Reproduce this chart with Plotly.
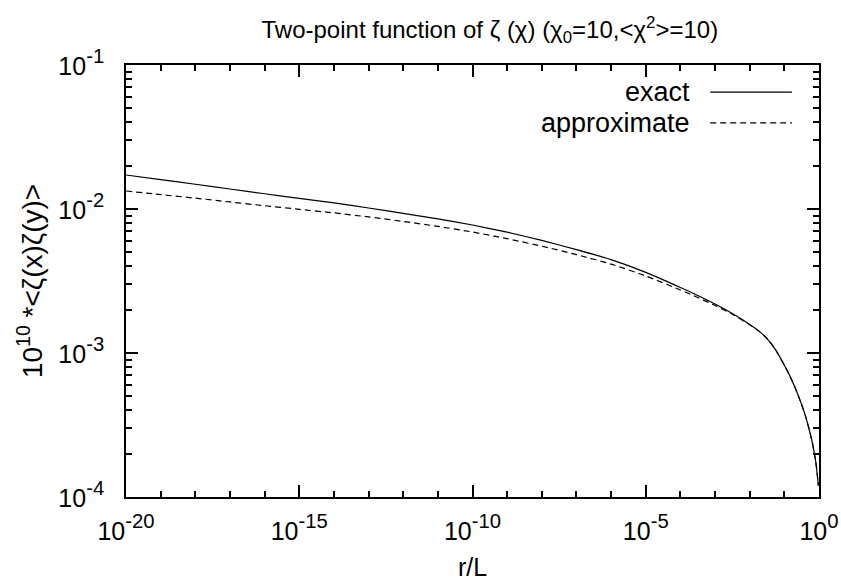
import plotly.graph_objects as go

# r/L sample points
r_exact = [1e-20, 1e-19, 1e-18, 1e-17, 1e-16, 1e-15, 1e-14, 1e-13, 1e-12, 1e-11, 1e-10,
           1e-9, 1e-8, 1e-7, 1e-6, 1e-5, 1e-4, 3.16e-4, 1e-3, 3.16e-3, 0.01, 0.01778,
           0.0316, 0.0562, 0.1, 0.1259, 0.1585, 0.1995, 0.2512, 0.3162, 0.3981, 0.5012,
           0.6310, 0.7079, 0.7943, 0.8511, 0.8913, 0.9333, 0.9550]
corr_exact = [0.01722, 0.01600, 0.01486, 0.01377, 0.01276, 0.01186, 0.01102, 0.01016,
              0.00933, 0.00853, 0.00774, 0.00690, 0.00605, 0.00522, 0.00445, 0.00363,
              0.00285, 0.00251, 0.00219, 0.00188, 0.00158, 0.00143, 0.00126, 0.00105,
              0.000822, 0.000741, 0.000661, 0.000582, 0.000507, 0.000437, 0.000372,
              0.000305, 0.000243, 0.000211, 0.000180, 0.000158, 0.000143, 0.000129,
              0.000120]

r_approx = list(r_exact)
corr_approx = [0.01334, 0.01259, 0.01189, 0.01119, 0.01054, 0.00995, 0.00940, 0.00881,
               0.00820, 0.00757, 0.00692, 0.00622, 0.00552, 0.00482, 0.00414, 0.00343,
               0.00274, 0.00243, 0.00214, 0.00186, 0.00157, 0.00143, 0.00126, 0.00105,
               0.000822, 0.000741, 0.000661, 0.000582, 0.000507, 0.000437, 0.000372,
               0.000305, 0.000243, 0.000211, 0.000180, 0.000158, 0.000143, 0.000129,
               0.000120]

x_major_vals = [1e-20, 1e-15, 1e-10, 1e-5, 1e0]
x_major_exp = ["-20", "-15", "-10", "-5", "0"]
x_minor_vals = [10.0 ** e for e in range(-20, 1) if e % 5 != 0]

y_major_vals = [1e-4, 1e-3, 1e-2, 1e-1]
y_major_exp = ["-4", "-3", "-2", "-1"]
y_minor_vals = [m * 10.0 ** e for e in (-4, -3, -2) for m in range(2, 10)]

legend_names = ["exact", "approximate"]

FONT = "Liberation Sans, Arial, sans-serif"


def pow_label(e):
    # base digits at 25px, exponent inherits 70% of the 29px tick font (~20px)
    return "<span style='font-size:25px'>10</span><sup>" + e + "</sup>"


fig = go.Figure()
fig.add_trace(go.Scatter(x=r_exact, y=corr_exact, mode="lines", name=legend_names[0],
                         line=dict(color="black", width=1.2, shape="spline", smoothing=0.6),
                         showlegend=False))
fig.add_trace(go.Scatter(x=r_approx, y=corr_approx, mode="lines", name=legend_names[1],
                         line=dict(color="black", width=1.2, dash="6px,4px", shape="spline",
                                   smoothing=0.6),
                         showlegend=False))

# gnuplot-style legend: text right-aligned, sample line to the right
leg_y = [0.937, 0.866]
leg_dash = ["solid", "6px,4px"]
for name, yy, dsh in zip(legend_names, leg_y, leg_dash):
    fig.add_annotation(x=0.817, y=yy, xref="paper", yref="paper", text=name,
                       showarrow=False, xanchor="right", yanchor="middle",
                       font=dict(size=27, color="black", family=FONT))
    fig.add_shape(type="line", xref="paper", yref="paper", x0=0.843, x1=0.961,
                  y0=yy, y1=yy, line=dict(color="black", width=1.2, dash=dsh))

axis_common = dict(
    type="log", showgrid=False, zeroline=False, showline=True, linecolor="black",
    linewidth=2, mirror="ticks", ticks="inside", ticklen=12, tickwidth=1.5,
    tickcolor="black", tickfont=dict(size=29, color="black", family=FONT),
    automargin=False,
)

fig.update_xaxes(
    **axis_common, range=[-20, 0], tickmode="array", tickvals=x_major_vals,
    ticktext=[pow_label(e) for e in x_major_exp], ticklabelstandoff=6,
    minor=dict(tickmode="array", tickvals=x_minor_vals, ticks="inside", ticklen=6,
               tickwidth=1.5, tickcolor="black"),
    title=dict(text="r/L", font=dict(size=25, color="black", family=FONT), standoff=18),
)
fig.update_yaxes(
    **axis_common, range=[-4, -1], tickmode="array", tickvals=y_major_vals,
    ticktext=[pow_label(e) for e in y_major_exp], ticklabelstandoff=14,
    minor=dict(tickmode="array", tickvals=y_minor_vals, ticks="inside", ticklen=6,
               tickwidth=1.5, tickcolor="black"),
    title=dict(text="10<sup>10</sup> *<ζ(x)ζ(y)>",
               font=dict(size=28, color="black", family=FONT), standoff=8),
)

fig.update_layout(
    width=841, height=581,
    margin=dict(l=126, r=22, t=65, b=84),
    paper_bgcolor="white", plot_bgcolor="white",
    title=dict(text="Two-point function of ζ (χ) (χ<sub>0</sub>=10,<χ<sup>2</sup>>=10)",
               x=0.525, xref="paper", xanchor="center", y=1 - 30 / 581, yref="container",
               yanchor="middle", font=dict(size=24, color="black", family=FONT)),
    font=dict(family=FONT, color="black"),
)

fig.write_html("out.html")
